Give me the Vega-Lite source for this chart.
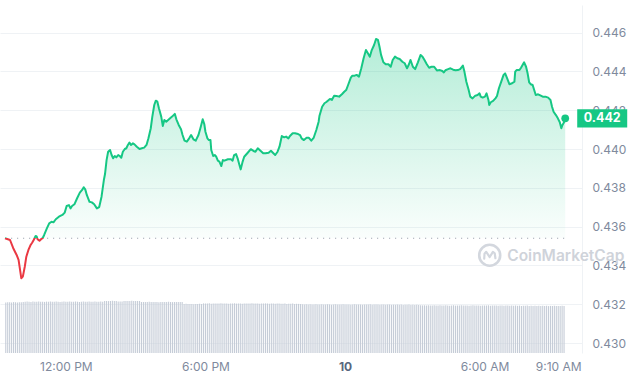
{
  "$schema": "https://vega.github.io/schema/vega-lite/v6.json",
  "width": 582,
  "height": 348,
  "autosize": {"type": "none"},
  "padding": {"left": 0, "top": 5, "right": 48, "bottom": 27},
  "background": "white",
  "config": {"view": {"stroke": null}, "font": "Inter"},
  "datasets": {
    "price": [
      {"minute":563,"price":0.43540},{"minute":576,"price":0.43531},{"minute":584,"price":0.43490},{"minute":593,"price":0.43454},{"minute":598,"price":0.43428},{"minute":603,"price":0.43361},{"minute":605,"price":0.43334},{"minute":609,"price":0.43342},{"minute":614,"price":0.43393},{"minute":618,"price":0.43445},
      {"minute":624,"price":0.43483},{"minute":629,"price":0.43505},{"minute":633,"price":0.43517},{"minute":637,"price":0.43531},{"minute":642,"price":0.43552},{"minute":645,"price":0.43548},{"minute":647,"price":0.43535},{"minute":652,"price":0.43527},{"minute":656,"price":0.43535},{"minute":660,"price":0.43540},
      {"minute":664,"price":0.43557},{"minute":671,"price":0.43591},{"minute":677,"price":0.43617},{"minute":683,"price":0.43625},{"minute":688,"price":0.43622},{"minute":694,"price":0.43638},{"minute":702,"price":0.43651},{"minute":711,"price":0.43660},{"minute":717,"price":0.43672},{"minute":722,"price":0.43706},
      {"minute":728,"price":0.43711},{"minute":732,"price":0.43694},{"minute":736,"price":0.43706},{"minute":742,"price":0.43715},{"minute":749,"price":0.43746},{"minute":756,"price":0.43775},{"minute":763,"price":0.43792},{"minute":766,"price":0.43803},{"minute":770,"price":0.43792},{"minute":774,"price":0.43763},
      {"minute":781,"price":0.43728},{"minute":787,"price":0.43725},{"minute":793,"price":0.43715},{"minute":800,"price":0.43694},{"minute":806,"price":0.43701},{"minute":812,"price":0.43754},{"minute":818,"price":0.43840},{"minute":821,"price":0.43871},{"minute":825,"price":0.43943},{"minute":829,"price":0.43986},
      {"minute":834,"price":0.43995},{"minute":838,"price":0.43969},{"minute":842,"price":0.43952},{"minute":846,"price":0.43964},{"minute":850,"price":0.43957},{"minute":855,"price":0.43969},{"minute":859,"price":0.43964},{"minute":863,"price":0.43955},{"minute":867,"price":0.43986},{"minute":872,"price":0.44000},
      {"minute":876,"price":0.44004},{"minute":880,"price":0.44021},{"minute":884,"price":0.44033},{"minute":888,"price":0.44021},{"minute":893,"price":0.44029},{"minute":897,"price":0.44024},{"minute":903,"price":0.44012},{"minute":910,"price":0.44000},{"minute":916,"price":0.44004},{"minute":922,"price":0.44007},
      {"minute":928,"price":0.44021},{"minute":933,"price":0.44055},{"minute":939,"price":0.44107},{"minute":943,"price":0.44167},{"minute":948,"price":0.44227},{"minute":952,"price":0.44249},{"minute":956,"price":0.44244},{"minute":960,"price":0.44210},{"minute":966,"price":0.44167},{"minute":970,"price":0.44119},
      {"minute":974,"price":0.44150},{"minute":979,"price":0.44141},{"minute":986,"price":0.44153},{"minute":994,"price":0.44167},{"minute":1001,"price":0.44181},{"minute":1005,"price":0.44153},{"minute":1011,"price":0.44124},{"minute":1017,"price":0.44102},{"minute":1021,"price":0.44072},{"minute":1026,"price":0.44043},
      {"minute":1032,"price":0.44038},{"minute":1038,"price":0.44055},{"minute":1043,"price":0.44072},{"minute":1049,"price":0.44050},{"minute":1055,"price":0.44043},{"minute":1062,"price":0.44072},{"minute":1068,"price":0.44115},{"minute":1073,"price":0.44153},{"minute":1077,"price":0.44129},{"minute":1080,"price":0.44089},
      {"minute":1085,"price":0.44055},{"minute":1089,"price":0.44046},{"minute":1093,"price":0.44046},{"minute":1095,"price":0.43995},{"minute":1100,"price":0.43964},{"minute":1104,"price":0.43969},{"minute":1108,"price":0.43960},{"minute":1112,"price":0.43940},{"minute":1116,"price":0.43935},{"minute":1121,"price":0.43912},
      {"minute":1125,"price":0.43943},{"minute":1129,"price":0.43940},{"minute":1138,"price":0.43947},{"minute":1146,"price":0.43947},{"minute":1150,"price":0.43940},{"minute":1154,"price":0.43969},{"minute":1159,"price":0.43974},{"minute":1163,"price":0.43952},{"minute":1167,"price":0.43923},{"minute":1171,"price":0.43895},
      {"minute":1176,"price":0.43935},{"minute":1180,"price":0.43960},{"minute":1188,"price":0.43978},{"minute":1197,"price":0.43999},{"minute":1204,"price":0.43990},{"minute":1209,"price":0.43986},{"minute":1215,"price":0.44004},{"minute":1222,"price":0.43991},{"minute":1229,"price":0.43978},{"minute":1235,"price":0.43978},
      {"minute":1243,"price":0.43981},{"minute":1249,"price":0.43991},{"minute":1254,"price":0.43981},{"minute":1260,"price":0.43969},{"minute":1266,"price":0.43986},{"minute":1271,"price":0.44012},{"minute":1277,"price":0.44067},{"minute":1283,"price":0.44060},{"minute":1288,"price":0.44064},{"minute":1294,"price":0.44055},
      {"minute":1298,"price":0.44067},{"minute":1305,"price":0.44081},{"minute":1311,"price":0.44081},{"minute":1319,"price":0.44077},{"minute":1324,"price":0.44072},{"minute":1328,"price":0.44055},{"minute":1334,"price":0.44046},{"minute":1341,"price":0.44058},{"minute":1347,"price":0.44058},{"minute":1353,"price":0.44043},
      {"minute":1359,"price":0.44057},{"minute":1366,"price":0.44098},{"minute":1372,"price":0.44141},{"minute":1374,"price":0.44170},{"minute":1381,"price":0.44218},{"minute":1387,"price":0.44236},{"minute":1391,"price":0.44241},{"minute":1395,"price":0.44248},{"minute":1401,"price":0.44258},{"minute":1406,"price":0.44253},
      {"minute":1412,"price":0.44275},{"minute":1418,"price":0.44273},{"minute":1425,"price":0.44270},{"minute":1432,"price":0.44282},{"minute":1438,"price":0.44295},{"minute":1443,"price":0.44304},{"minute":1448,"price":0.44330},{"minute":1455,"price":0.44368},{"minute":1459,"price":0.44378},{"minute":1465,"price":0.44378},
      {"minute":1470,"price":0.44382},{"minute":1476,"price":0.44373},{"minute":1482,"price":0.44416},{"minute":1488,"price":0.44468},{"minute":1494,"price":0.44510},{"minute":1499,"price":0.44493},{"minute":1504,"price":0.44476},{"minute":1509,"price":0.44510},{"minute":1515,"price":0.44536},{"minute":1520,"price":0.44567},
      {"minute":1525,"price":0.44562},{"minute":1529,"price":0.44527},{"minute":1533,"price":0.44485},{"minute":1539,"price":0.44447},{"minute":1545,"price":0.44437},{"minute":1552,"price":0.44437},{"minute":1558,"price":0.44424},{"minute":1563,"price":0.44459},{"minute":1569,"price":0.44476},{"minute":1575,"price":0.44468},
      {"minute":1581,"price":0.44464},{"minute":1588,"price":0.44450},{"minute":1594,"price":0.44442},{"minute":1600,"price":0.44416},{"minute":1605,"price":0.44437},{"minute":1609,"price":0.44459},{"minute":1615,"price":0.44424},{"minute":1621,"price":0.44412},{"minute":1628,"price":0.44447},{"minute":1635,"price":0.44485},
      {"minute":1640,"price":0.44476},{"minute":1645,"price":0.44459},{"minute":1651,"price":0.44437},{"minute":1657,"price":0.44419},{"minute":1663,"price":0.44424},{"minute":1670,"price":0.44424},{"minute":1677,"price":0.44405},{"minute":1685,"price":0.44407},{"minute":1691,"price":0.44402},{"minute":1695,"price":0.44395},
      {"minute":1699,"price":0.44406},{"minute":1706,"price":0.44412},{"minute":1712,"price":0.44416},{"minute":1719,"price":0.44409},{"minute":1725,"price":0.44406},{"minute":1731,"price":0.44407},{"minute":1737,"price":0.44412},{"minute":1744,"price":0.44430},{"minute":1748,"price":0.44399},{"minute":1753,"price":0.44347},
      {"minute":1759,"price":0.44304},{"minute":1763,"price":0.44270},{"minute":1769,"price":0.44261},{"minute":1776,"price":0.44275},{"minute":1782,"price":0.44278},{"minute":1787,"price":0.44287},{"minute":1790,"price":0.44270},{"minute":1795,"price":0.44265},{"minute":1801,"price":0.44270},{"minute":1805,"price":0.44287},
      {"minute":1810,"price":0.44253},{"minute":1812,"price":0.44227},{"minute":1816,"price":0.44241},{"minute":1822,"price":0.44248},{"minute":1828,"price":0.44261},{"minute":1832,"price":0.44273},{"minute":1837,"price":0.44313},{"minute":1843,"price":0.44347},{"minute":1849,"price":0.44382},{"minute":1853,"price":0.44390},
      {"minute":1858,"price":0.44365},{"minute":1864,"price":0.44334},{"minute":1871,"price":0.44339},{"minute":1877,"price":0.44347},{"minute":1879,"price":0.44399},{"minute":1883,"price":0.44407},{"minute":1890,"price":0.44407},{"minute":1894,"price":0.44419},{"minute":1898,"price":0.44433},{"minute":1902,"price":0.44447},
      {"minute":1907,"price":0.44424},{"minute":1911,"price":0.44390},{"minute":1915,"price":0.44344},{"minute":1919,"price":0.44334},{"minute":1924,"price":0.44330},{"minute":1928,"price":0.44304},{"minute":1932,"price":0.44278},{"minute":1938,"price":0.44282},{"minute":1945,"price":0.44275},{"minute":1950,"price":0.44270},
      {"minute":1957,"price":0.44270},{"minute":1964,"price":0.44265},{"minute":1970,"price":0.44253},{"minute":1974,"price":0.44218},{"minute":1978,"price":0.44192},{"minute":1984,"price":0.44175},{"minute":1989,"price":0.44158},{"minute":1994,"price":0.44138},{"minute":1998,"price":0.44107},{"minute":2001,"price":0.44124},
      {"minute":2005,"price":0.44138},{"minute":2008,"price":0.44158}
    ],
    "volume": [
      {"minute":565,"volume":50.6},{"minute":570,"volume":50.8},{"minute":575,"volume":50.7},{"minute":580,"volume":50.5},{"minute":585,"volume":50.9},{"minute":590,"volume":50.7},{"minute":595,"volume":50.6},{"minute":600,"volume":50.8},{"minute":605,"volume":50.7},{"minute":610,"volume":50.9},
      {"minute":615,"volume":51.2},{"minute":620,"volume":51.4},{"minute":625,"volume":51.3},{"minute":630,"volume":51.1},{"minute":635,"volume":51.5},{"minute":640,"volume":51.3},{"minute":645,"volume":51.2},{"minute":650,"volume":51.4},{"minute":655,"volume":51.3},{"minute":660,"volume":51.3},
      {"minute":665,"volume":51.1},{"minute":670,"volume":51.4},{"minute":675,"volume":51.2},{"minute":680,"volume":51.5},{"minute":685,"volume":51.3},{"minute":690,"volume":51.2},{"minute":695,"volume":51.4},{"minute":700,"volume":51.3},{"minute":705,"volume":51.1},{"minute":710,"volume":51.3},
      {"minute":715,"volume":51.4},{"minute":720,"volume":51.2},{"minute":725,"volume":51.3},{"minute":730,"volume":51.5},{"minute":735,"volume":51.2},{"minute":740,"volume":51.3},{"minute":745,"volume":51.4},{"minute":750,"volume":51.3},{"minute":755,"volume":51.1},{"minute":760,"volume":51.3},
      {"minute":765,"volume":51.4},{"minute":770,"volume":51.2},{"minute":775,"volume":51.3},{"minute":780,"volume":51.5},{"minute":785,"volume":51.3},{"minute":790,"volume":51.2},{"minute":795,"volume":51.4},{"minute":800,"volume":51.3},{"minute":805,"volume":51.2},{"minute":810,"volume":51.4},
      {"minute":815,"volume":51.3},{"minute":820,"volume":52.0},{"minute":825,"volume":52.1},{"minute":830,"volume":51.9},{"minute":835,"volume":52.0},{"minute":840,"volume":52.2},{"minute":845,"volume":52.0},{"minute":850,"volume":51.9},{"minute":855,"volume":51.5},{"minute":860,"volume":51.6},
      {"minute":865,"volume":51.4},{"minute":870,"volume":52.0},{"minute":875,"volume":52.1},{"minute":880,"volume":51.9},{"minute":885,"volume":52.0},{"minute":890,"volume":52.2},{"minute":895,"volume":52.0},{"minute":900,"volume":51.9},{"minute":905,"volume":52.1},{"minute":910,"volume":52.0},
      {"minute":915,"volume":51.0},{"minute":920,"volume":51.1},{"minute":925,"volume":50.9},{"minute":930,"volume":51.0},{"minute":935,"volume":51.2},{"minute":940,"volume":51.0},{"minute":945,"volume":50.9},{"minute":950,"volume":51.1},{"minute":955,"volume":51.0},{"minute":960,"volume":50.8},
      {"minute":965,"volume":51.0},{"minute":970,"volume":51.1},{"minute":975,"volume":50.9},{"minute":980,"volume":51.0},{"minute":985,"volume":51.2},{"minute":990,"volume":51.0},{"minute":995,"volume":50.9},{"minute":1000,"volume":51.1},{"minute":1005,"volume":51.0},{"minute":1010,"volume":50.9},
      {"minute":1015,"volume":51.0},{"minute":1020,"volume":51.1},{"minute":1025,"volume":49.0},{"minute":1030,"volume":49.2},{"minute":1035,"volume":48.9},{"minute":1040,"volume":49.1},{"minute":1045,"volume":49.0},{"minute":1050,"volume":48.8},{"minute":1055,"volume":49.1},{"minute":1060,"volume":49.0},
      {"minute":1065,"volume":49.2},{"minute":1070,"volume":48.9},{"minute":1075,"volume":49.6},{"minute":1080,"volume":49.4},{"minute":1085,"volume":49.5},{"minute":1090,"volume":49.7},{"minute":1095,"volume":49.3},{"minute":1100,"volume":49.5},{"minute":1105,"volume":49.6},{"minute":1110,"volume":49.4},
      {"minute":1115,"volume":49.5},{"minute":1120,"volume":49.8},{"minute":1125,"volume":49.6},{"minute":1130,"volume":49.4},{"minute":1135,"volume":49.5},{"minute":1140,"volume":49.3},{"minute":1145,"volume":49.6},{"minute":1150,"volume":49.5},{"minute":1155,"volume":49.7},{"minute":1160,"volume":49.4},
      {"minute":1165,"volume":49.5},{"minute":1170,"volume":49.6},{"minute":1175,"volume":49.3},{"minute":1180,"volume":49.5},{"minute":1185,"volume":49.4},{"minute":1190,"volume":49.6},{"minute":1195,"volume":49.5},{"minute":1200,"volume":49.7},{"minute":1205,"volume":49.4},{"minute":1210,"volume":49.5},
      {"minute":1215,"volume":49.6},{"minute":1220,"volume":49.3},{"minute":1225,"volume":49.5},{"minute":1230,"volume":49.4},{"minute":1235,"volume":49.6},{"minute":1240,"volume":49.5},{"minute":1245,"volume":49.2},{"minute":1250,"volume":49.4},{"minute":1255,"volume":49.5},{"minute":1260,"volume":49.3},
      {"minute":1265,"volume":49.4},{"minute":1270,"volume":49.6},{"minute":1275,"volume":49.2},{"minute":1280,"volume":49.3},{"minute":1285,"volume":49.5},{"minute":1290,"volume":49.1},{"minute":1295,"volume":49.3},{"minute":1300,"volume":49.2},{"minute":1305,"volume":49.4},{"minute":1310,"volume":49.0},
      {"minute":1315,"volume":49.2},{"minute":1320,"volume":49.1},{"minute":1325,"volume":49.0},{"minute":1330,"volume":48.8},{"minute":1335,"volume":48.6},{"minute":1340,"volume":48.7},{"minute":1345,"volume":48.5},{"minute":1350,"volume":48.8},{"minute":1355,"volume":48.6},{"minute":1360,"volume":48.4},
      {"minute":1365,"volume":48.7},{"minute":1370,"volume":48.5},{"minute":1375,"volume":48.6},{"minute":1380,"volume":48.8},{"minute":1385,"volume":48.4},{"minute":1390,"volume":48.5},{"minute":1395,"volume":48.7},{"minute":1400,"volume":48.6},{"minute":1405,"volume":48.3},{"minute":1410,"volume":48.5},
      {"minute":1415,"volume":48.7},{"minute":1420,"volume":48.4},{"minute":1425,"volume":48.6},{"minute":1430,"volume":48.5},{"minute":1435,"volume":48.8},{"minute":1440,"volume":48.4},{"minute":1445,"volume":48.5},{"minute":1450,"volume":48.6},{"minute":1455,"volume":48.3},{"minute":1460,"volume":48.5},
      {"minute":1465,"volume":48.7},{"minute":1470,"volume":48.4},{"minute":1475,"volume":48.6},{"minute":1480,"volume":48.5},{"minute":1485,"volume":48.3},{"minute":1490,"volume":48.6},{"minute":1495,"volume":48.4},{"minute":1500,"volume":48.5},{"minute":1505,"volume":48.7},{"minute":1510,"volume":48.3},
      {"minute":1515,"volume":48.5},{"minute":1520,"volume":48.4},{"minute":1525,"volume":48.6},{"minute":1530,"volume":48.2},{"minute":1535,"volume":48.4},{"minute":1540,"volume":48.5},{"minute":1545,"volume":48.3},{"minute":1550,"volume":48.4},{"minute":1555,"volume":48.6},{"minute":1560,"volume":48.2},
      {"minute":1565,"volume":48.4},{"minute":1570,"volume":48.3},{"minute":1575,"volume":48.5},{"minute":1580,"volume":48.2},{"minute":1585,"volume":48.4},{"minute":1590,"volume":48.1},{"minute":1595,"volume":48.3},{"minute":1600,"volume":48.2},{"minute":1605,"volume":48.4},{"minute":1610,"volume":48.0},
      {"minute":1615,"volume":48.2},{"minute":1620,"volume":48.1},{"minute":1625,"volume":48.3},{"minute":1630,"volume":48.0},{"minute":1635,"volume":47.8},{"minute":1640,"volume":47.6},{"minute":1645,"volume":47.7},{"minute":1650,"volume":47.5},{"minute":1655,"volume":47.8},{"minute":1660,"volume":47.6},
      {"minute":1665,"volume":47.4},{"minute":1670,"volume":47.7},{"minute":1675,"volume":47.5},{"minute":1680,"volume":47.6},{"minute":1685,"volume":47.8},{"minute":1690,"volume":47.4},{"minute":1695,"volume":47.5},{"minute":1700,"volume":47.7},{"minute":1705,"volume":47.6},{"minute":1710,"volume":47.3},
      {"minute":1715,"volume":47.5},{"minute":1720,"volume":47.7},{"minute":1725,"volume":47.4},{"minute":1730,"volume":47.6},{"minute":1735,"volume":47.5},{"minute":1740,"volume":47.8},{"minute":1745,"volume":47.4},{"minute":1750,"volume":47.5},{"minute":1755,"volume":47.6},{"minute":1760,"volume":47.3},
      {"minute":1765,"volume":47.5},{"minute":1770,"volume":47.7},{"minute":1775,"volume":47.4},{"minute":1780,"volume":47.6},{"minute":1785,"volume":47.5},{"minute":1790,"volume":47.3},{"minute":1795,"volume":47.6},{"minute":1800,"volume":47.4},{"minute":1805,"volume":47.5},{"minute":1810,"volume":47.7},
      {"minute":1815,"volume":47.3},{"minute":1820,"volume":47.5},{"minute":1825,"volume":47.4},{"minute":1830,"volume":47.6},{"minute":1835,"volume":47.2},{"minute":1840,"volume":47.4},{"minute":1845,"volume":47.5},{"minute":1850,"volume":47.3},{"minute":1855,"volume":47.4},{"minute":1860,"volume":47.6},
      {"minute":1865,"volume":47.2},{"minute":1870,"volume":47.4},{"minute":1875,"volume":47.3},{"minute":1880,"volume":47.5},{"minute":1885,"volume":47.2},{"minute":1890,"volume":47.4},{"minute":1895,"volume":47.1},{"minute":1900,"volume":47.3},{"minute":1905,"volume":47.2},{"minute":1910,"volume":47.4},
      {"minute":1915,"volume":47.0},{"minute":1920,"volume":47.2},{"minute":1925,"volume":47.1},{"minute":1930,"volume":47.3},{"minute":1935,"volume":47.0},{"minute":1940,"volume":47.2},{"minute":1945,"volume":47.1},{"minute":1950,"volume":47.3},{"minute":1955,"volume":47.0},{"minute":1960,"volume":47.2},
      {"minute":1965,"volume":46.9},{"minute":1970,"volume":47.1},{"minute":1975,"volume":47.0},{"minute":1980,"volume":47.2},{"minute":1985,"volume":46.9},{"minute":1990,"volume":47.1},{"minute":1995,"volume":47.0},{"minute":2000,"volume":47.2},{"minute":2005,"volume":46.9}
    ]
  },
  "encoding": {
    "x": {
      "field": "minute",
      "type": "quantitative",
      "title": null,
      "scale": {"domain": [563, 2038.4], "nice": false, "zero": false},
      "axis": {
        "values": [720, 1080, 1440, 1800, 1990],
        "labelExpr": "datum.value == 720 ? '12:00 PM' : datum.value == 1080 ? '6:00 PM' : datum.value == 1440 ? '10' : datum.value == 1800 ? '6:00 AM' : '9:10 AM'",
        "grid": false,
        "domain": false,
        "ticks": false,
        "labelPadding": 8,
        "labelFontSize": 12,
        "labelFont": "Inter",
        "labelFlush": false,
        "labelOverlap": false,
        "labelColor": {"condition": {"test": "datum.value == 1440", "value": "#58667e"}, "value": "#808a9d"},
        "labelFontWeight": {"condition": {"test": "datum.value == 1440", "value": "bold"}, "value": "normal"}
      }
    }
  },
  "layer": [
    {
      "data": {"name": "volume"},
      "mark": {"type": "bar", "width": 1.1, "color": "#c5ccd7"},
      "encoding": {
        "y": {"field": "volume", "type": "quantitative", "scale": {"domain": [0, 348], "nice": false, "zero": true}, "axis": null}
      }
    },
    {
      "encoding": {
        "y": {
          "field": "price",
          "type": "quantitative",
          "title": null,
          "scale": {"domain": [0.429485, 0.447423], "nice": false, "zero": false},
          "axis": {
            "orient": "right",
            "values": [0.430, 0.432, 0.434, 0.436, 0.438, 0.440, 0.442, 0.444, 0.446],
            "format": ".3f",
            "grid": true,
            "gridColor": "#eff2f5",
            "domain": true,
            "domainColor": "#eff2f5",
            "ticks": false,
            "labelPadding": 10,
            "labelFontSize": 12,
            "labelFont": "Inter",
            "labelColor": "#808a9d"
          }
        }
      },
      "layer": [
        {
          "data": {"name": "price"},
          "transform": [
            {"window": [{"op": "first_value", "field": "price", "as": "open"}], "sort": [{"field": "minute", "order": "ascending"}], "frame": [null, null]}
          ],
          "mark": {
            "type": "area",
            "fill": {
              "gradient": "linear", "x1": 0, "y1": 0, "x2": 0, "y2": 1,
              "stops": [
                {"offset": 0, "color": "rgba(22,199,132,0.32)"},
                {"offset": 0.833, "color": "rgba(22,199,132,0.02)"},
                {"offset": 0.833, "color": "rgba(234,57,67,0)"},
                {"offset": 1, "color": "rgba(234,57,67,0)"}
              ]
            }
          },
          "encoding": {"y2": {"field": "open"}}
        },
        {
          "data": {"name": "price"},
          "transform": [
            {"window": [{"op": "first_value", "field": "price", "as": "open"}], "sort": [{"field": "minute", "order": "ascending"}], "frame": [null, null]}
          ],
          "mark": {"type": "line", "stroke": "#a3a9b4", "strokeWidth": 1.2, "strokeDash": [1.2, 4.8]},
          "encoding": {"y": {"field": "open", "type": "quantitative"}}
        },
        {
          "data": {"name": "price"},
          "mark": {
            "type": "line",
            "strokeWidth": 2,
            "strokeJoin": "round",
            "stroke": {
              "gradient": "linear", "x1": 0, "y1": 0, "x2": 0, "y2": 1,
              "stops": [
                {"offset": 0, "color": "#16c784"},
                {"offset": 0.833, "color": "#16c784"},
                {"offset": 0.833, "color": "#ea3943"},
                {"offset": 1, "color": "#ea3943"}
              ]
            }
          }
        },
        {
          "data": {"name": "price"},
          "transform": [
            {"window": [{"op": "first_value", "field": "price", "as": "open"}], "sort": [{"field": "minute", "order": "ascending"}], "frame": [null, null]},
            {"window": [{"op": "row_number", "as": "rn"}], "sort": [{"field": "minute", "order": "descending"}]},
            {"filter": "datum.rn == 1"}
          ],
          "layer": [
            {
              "mark": {"type": "point", "shape": "M-8.6,1.7A1.05,1.05 0 1,0 -6.5,1.7A1.05,1.05 0 1,0 -8.6,1.7Z", "filled": false, "stroke": "#d3d7de", "strokeWidth": 2.6, "size": 400, "opacity": 1},
              "encoding": {"y": {"field": "open", "type": "quantitative"}}
            },
            {
              "mark": {"type": "point", "shape": "M-8.1,2.05L-8.07,1.55L-7.9,1.36L-7.55,1.88L-7.23,1.36L-7.05,1.5L-6.98,2.0", "filled": false, "stroke": "#d3d7de", "strokeWidth": 2.2, "strokeJoin": "round", "strokeCap": "round", "size": 400, "opacity": 1},
              "encoding": {"y": {"field": "open", "type": "quantitative"}}
            },
            {
              "mark": {"type": "text", "text": "CoinMarketCap", "dx": -58, "dy": 18, "align": "left", "baseline": "middle", "fontSize": 15.5, "fontWeight": 600, "font": "Inter", "color": "#cfd3da"},
              "encoding": {"y": {"field": "open", "type": "quantitative"}}
            }
          ]
        },
        {
          "data": {"name": "price"},
          "transform": [
            {"window": [{"op": "row_number", "as": "rn"}], "sort": [{"field": "minute", "order": "descending"}]},
            {"filter": "datum.rn == 1"}
          ],
          "mark": {"type": "point", "filled": true, "color": "#16c784", "size": 60, "opacity": 1}
        },
        {
          "data": {"name": "price"},
          "transform": [
            {"window": [{"op": "row_number", "as": "rn"}], "sort": [{"field": "minute", "order": "descending"}]},
            {"filter": "datum.rn == 1"}
          ],
          "mark": {"type": "point", "shape": "M1.2,-0.92L6.2,-0.92L6.2,0.92L1.2,0.92Z", "filled": true, "color": "#16c784", "size": 400, "opacity": 1}
        },
        {
          "data": {"name": "price"},
          "transform": [
            {"window": [{"op": "row_number", "as": "rn"}], "sort": [{"field": "minute", "order": "descending"}]},
            {"filter": "datum.rn == 1"}
          ],
          "mark": {"type": "text", "dx": 37, "align": "center", "baseline": "middle", "fontSize": 12.5, "fontWeight": "bold", "font": "Inter", "color": "white"},
          "encoding": {"text": {"field": "price", "type": "quantitative", "format": ".3f"}}
        }
      ]
    }
  ],
  "resolve": {"scale": {"y": "independent"}}
}
